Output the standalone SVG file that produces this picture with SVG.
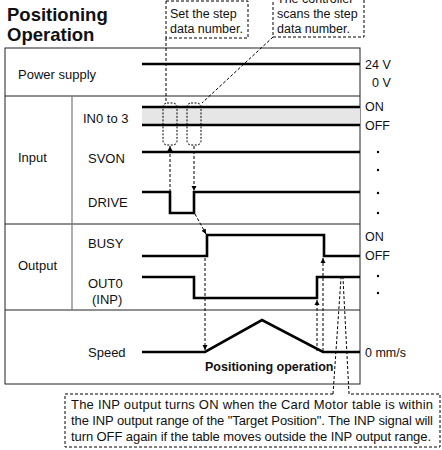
<svg xmlns="http://www.w3.org/2000/svg" width="442" height="450" viewBox="0 0 442 450">
<defs>
<style>
text{font-family:"Liberation Sans",Arial,Helvetica,sans-serif;fill:#111;}
.t{font-size:13px;}
.c{font-size:12.5px;}
.ttl{font-size:18.5px;font-weight:bold;}
.b{font-size:12.5px;font-weight:bold;}
.frame{fill:none;stroke:#222;stroke-width:1;}
.div{fill:none;stroke:#777;stroke-width:1.2;}
.sig{fill:none;stroke:#000;stroke-width:2.6;stroke-linejoin:miter;}
.dash{fill:none;stroke:#000;stroke-width:1;stroke-dasharray:3 2;}
.cap{fill:none;stroke:#000;stroke-width:1;stroke-dasharray:2 1.5;}
.dot{fill:#000;}
</style>
<marker id="ah" viewBox="0 0 10 10" refX="10" refY="5" markerWidth="5" markerHeight="7" markerUnits="userSpaceOnUse" orient="auto">
<path d="M0,0 L10,5 L0,10 z" fill="#000"/>
</marker>
</defs>

<g id="title">
<text class="ttl" x="7" y="21">Positioning</text>
<text class="ttl" x="7" y="41">Operation</text>
</g>

<g id="table">
<rect class="frame" x="5" y="48" width="355" height="336"/>
<line class="frame" x1="5" y1="96" x2="360" y2="96"/>
<line class="frame" x1="5" y1="224" x2="360" y2="224"/>
<line class="frame" x1="5" y1="310" x2="360" y2="310"/>
<line class="div" x1="72" y1="96" x2="72" y2="310"/>
</g>

<g id="power-supply">
<text class="t" x="18" y="78.5">Power supply</text>
<line class="sig" x1="142" y1="64" x2="360" y2="64"/>
<text class="c" x="365" y="69">24 V</text>
<text class="c" x="372" y="87">0 V</text>
</g>

<g id="input">
<text class="t" x="18" y="162">Input</text>
</g>

<g id="in0-3">
<rect x="142" y="107" width="218" height="18" fill="#e6e6e6"/>
<line class="sig" x1="142" y1="107" x2="360" y2="107"/>
<line class="sig" x1="142" y1="125" x2="360" y2="125"/>
<text class="t" x="83" y="123">IN0 to 3</text>
<text class="c" x="365" y="111">ON</text>
<text class="c" x="365" y="130">OFF</text>
</g>

<g id="svon">
<text class="t" x="88" y="163">SVON</text>
<line class="sig" x1="142" y1="152" x2="360" y2="152"/>
<circle class="dot" cx="378" cy="152" r="1.2"/>
<circle class="dot" cx="378" cy="170" r="1.2"/>
</g>

<g id="drive">
<text class="t" x="88" y="207">DRIVE</text>
<polyline class="sig" points="142,192 170,192 170,213 194,213 194,192 360,192"/>
<circle class="dot" cx="378" cy="193" r="1.2"/>
<circle class="dot" cx="378" cy="213" r="1.2"/>
</g>

<g id="output">
<text class="t" x="18" y="270">Output</text>
</g>

<g id="busy">
<text class="t" x="88" y="248">BUSY</text>
<polyline class="sig" points="142,256 207,256 207,235 324,235 324,256 360,256"/>
<text class="c" x="365" y="241">ON</text>
<text class="c" x="365" y="260">OFF</text>
</g>

<g id="out0">
<text class="t" x="88" y="288">OUT0</text>
<text class="t" x="92" y="304">(INP)</text>
<polyline class="sig" points="142,277 194,277 194,298 317,298 317,277 360,277"/>
<circle class="dot" cx="378" cy="276" r="1.2"/>
<circle class="dot" cx="378" cy="293" r="1.2"/>
</g>

<g id="speed">
<text class="t" x="88" y="357">Speed</text>
<polyline class="sig" points="142,352 205,352 262,320 323,352 360,352"/>
<text class="c" x="365" y="357">0 mm/s</text>
<text class="b" x="205" y="371">Positioning operation</text>
</g>

<g id="callout-set">
<rect class="dash" x="166" y="1" width="82" height="37"/>
<text class="c" x="170" y="18">Set the step</text>
<text class="c" x="170" y="33">data number.</text>
</g>

<g id="callout-scan">
<rect class="dash" x="273" y="-4" width="91" height="41"/>
<text class="c" x="277" y="3">The controller</text>
<text class="c" x="277" y="18">scans the step</text>
<text class="c" x="277" y="33">data number.</text>
</g>

<g id="callout-inp">
<path class="dash" d="M333,394 H65 V447 H440 V394 H349"/>
<text class="t" x="71" y="409" textLength="362" lengthAdjust="spacing">The INP output turns ON when the Card Motor table is within</text>
<text class="t" x="71" y="425" textLength="362" lengthAdjust="spacing">the INP output range of the "Target Position". The INP signal will</text>
<text class="t" x="71" y="441" textLength="360" lengthAdjust="spacing">turn OFF again if the table moves outside the INP output range.</text>
</g>

<g id="capsules">
<rect class="cap" x="163" y="103" width="14" height="42" rx="4"/>
<rect class="cap" x="187" y="103" width="14" height="42" rx="4"/>
</g>

<g id="connectors">
<line class="dash" x1="166" y1="38" x2="166" y2="103"/>
<line class="dash" x1="273" y1="37" x2="202" y2="103"/>
<line class="dash" x1="170" y1="192" x2="170" y2="146" marker-end="url(#ah)"/>
<line class="dash" x1="194" y1="146" x2="194" y2="191" marker-end="url(#ah)"/>
<line class="dash" x1="195" y1="214" x2="206" y2="234" marker-end="url(#ah)"/>
<line class="dash" x1="205" y1="258" x2="205" y2="350" marker-end="url(#ah)"/>
<line class="dash" x1="317" y1="351" x2="317" y2="300" marker-end="url(#ah)"/>
<line class="dash" x1="323" y1="351" x2="323" y2="258" marker-end="url(#ah)"/>
<line class="dash" x1="333" y1="394" x2="341" y2="278"/>
<line class="dash" x1="349" y1="394" x2="343" y2="278"/>
</g>
</svg>
